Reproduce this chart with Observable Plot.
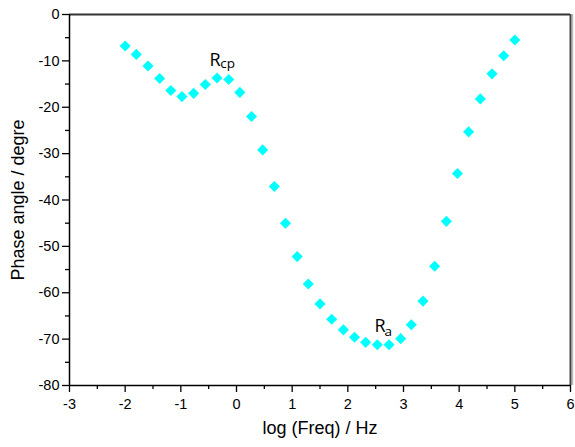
<!DOCTYPE html>
<html>
<head>
<meta charset="utf-8">
<script src="https://cdn.jsdelivr.net/npm/d3@7"></script>
<script src="https://cdn.jsdelivr.net/npm/@observablehq/plot@0.6"></script>
<style>
  html, body { margin: 0; padding: 0; background: #fff; }
</style>
</head>
<body>
<div id="chart"></div>
<script>
// Bode phase data: log(Freq) and phase angle
const logFreq = [-2.00,-1.80,-1.59,-1.38,-1.18,-0.98,-0.77,-0.56,-0.35,-0.14,0.06,0.27,0.47,0.68,0.88,1.09,1.29,1.50,1.71,1.92,2.12,2.32,2.53,2.74,2.95,3.14,3.35,3.56,3.77,3.97,4.17,4.38,4.59,4.80,5.00];
const phase = [-6.8,-8.6,-11.1,-13.8,-16.4,-17.7,-17.0,-15.1,-13.7,-14.0,-16.8,-22.0,-29.2,-37.1,-45.0,-52.2,-58.1,-62.4,-65.7,-68.0,-69.6,-70.7,-71.2,-71.2,-69.9,-66.9,-61.8,-54.3,-44.6,-34.3,-25.3,-18.2,-12.8,-8.9,-5.5];

const xTicks = [-3,-2,-1,0,1,2,3,4,5,6];
const xMinor = [-2.5,-1.5,-0.5,0.5,1.5,2.5,3.5,4.5,5.5];
const yTicks = [-80,-70,-60,-50,-40,-30,-20,-10,0];
const yMinor = [-75,-65,-55,-45,-35,-25,-15,-5];

const xLabel = "log (Freq) / Hz";
const yLabel = "Phase angle / degre";

// annotation labels (main letter + subscript), in data units
const annMain = ["R", "R"];
const annSub = ["cp", "a"];
const annX = [-0.485, 2.48];
const annY = [-11.2, -68.4];
const annSubX = [-0.29, 2.66];
const annSubY = [-11.54, -69.33];

const data = logFreq.map((x, i) => ({x, y: phase[i]}));
const ann = annMain.map((m, i) => ({m, s: annSub[i], x: annX[i], y: annY[i], sx: annSubX[i], sy: annSubY[i]}));

const chart = Plot.plot({
  width: 575,
  height: 447,
  marginLeft: 69,
  marginRight: 5,
  marginTop: 14,
  marginBottom: 62,
  x: {domain: [-3, 6], label: null},
  y: {domain: [-80, 0], label: null},
  style: {fontFamily: "'Liberation Sans', Arial, sans-serif", fontSize: "14.5px", background: "#fff", color: "#000"},
  marks: [
    Plot.axisX({ticks: xTicks, tickSize: 7, tickPadding: 6, tickFormat: d => String(d), fontSize: 14.5, label: null, strokeWidth: 1.3}),
    Plot.axisX({ticks: xMinor, tickSize: 4, tickFormat: () => "", label: null, strokeWidth: 1.3}),
    Plot.axisY({ticks: yTicks, tickSize: 7, tickPadding: 3, tickFormat: d => String(d), fontSize: 14.5, label: null, strokeWidth: 1.3}),
    Plot.axisY({ticks: yMinor, tickSize: 4, tickFormat: () => "", label: null, strokeWidth: 1.3}),
    // frame
    Plot.ruleY([0], {stroke: "#333", strokeWidth: 2.2}),
    Plot.ruleX([6], {stroke: "#bbb", strokeWidth: 1.5, dx: 2}),
    Plot.ruleX([6], {stroke: "#444", strokeWidth: 2}),
    Plot.ruleX([-3], {stroke: "#000", strokeWidth: 1.5}),
    Plot.ruleY([-80], {stroke: "#000", strokeWidth: 1.5}),
    // data
    Plot.dot(data, {x: "x", y: "y", symbol: "diamond2", r: 5, fill: "#00FFFF", stroke: "none"}),
    // annotations
    Plot.text(ann, {x: "x", y: "y", text: "m", textAnchor: "start", lineAnchor: "bottom", fontSize: 18, fontFamily: "'Open Sans', 'Noto Sans', sans-serif", fill: "#000"}),
    Plot.text(ann, {x: "sx", y: "sy", text: "s", textAnchor: "start", lineAnchor: "bottom", fontSize: 13.5, fontFamily: "'Open Sans', 'Noto Sans', sans-serif", fill: "#000"}),
    // axis titles
    Plot.text([xLabel], {frameAnchor: "bottom", dy: 48, fontSize: 18, fill: "#000"}),
    Plot.text([yLabel], {frameAnchor: "left", dx: -51, rotate: -90, textAnchor: "middle", lineAnchor: "middle", fontSize: 18, fill: "#000"})
  ]
});
document.getElementById("chart").appendChild(chart);
</script>
</body>
</html>
